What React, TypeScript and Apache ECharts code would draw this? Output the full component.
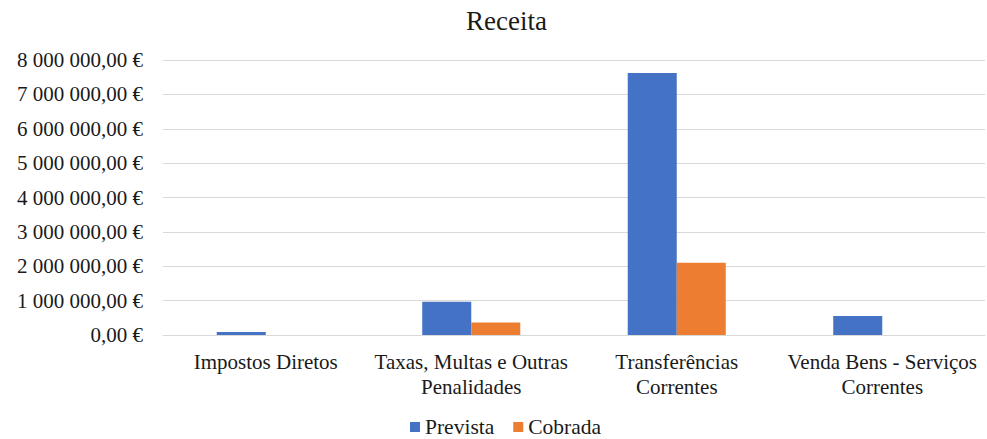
import React, { useEffect, useRef } from "react";
import * as echarts from "echarts";

const categories = [
  "Impostos Diretos",
  "Taxas, Multas e Outras\nPenalidades",
  "Transferências\nCorrentes",
  "Venda Bens - Serviços\nCorrentes",
];
const prevista = [90000, 970000, 7620000, 555000];
const cobrada = [0, 365000, 2100000, 0];
const seriesNames = ["Prevista", "Cobrada"];

const FONT = "Liberation Serif";

function fmt(v: number): string {
  const parts = v.toFixed(2).split(".");
  const int = parts[0].replace(/\B(?=(\d{3})+(?!\d))/g, " ");
  return `${int},${parts[1]} €`;
}

export default function App() {
  const ref = useRef<HTMLDivElement>(null);
  useEffect(() => {
    if (!ref.current) return;
    const chart = echarts.init(ref.current, undefined, { renderer: "svg" });
    chart.setOption({
      animation: false,
      backgroundColor: "#ffffff",
      textStyle: { fontFamily: FONT },
      title: {
        text: "Receita",
        left: 461,
        top: 2,
        textStyle: { fontFamily: FONT, fontSize: 27, fontWeight: "normal", color: "#1a1a1a" },
      },
      legend: {
        data: seriesNames,
        top: 411,
        left: 405,
        itemWidth: 10,
        itemHeight: 10,
        itemGap: 19,
        icon: "rect",
        textStyle: { fontFamily: FONT, fontSize: 21.5, color: "#1a1a1a" },
      },
      grid: { left: 163, right: 2, top: 60, bottom: 104, containLabel: false },
      xAxis: {
        type: "category",
        data: categories,
        axisLine: { lineStyle: { color: "#d9d9d9", width: 1 } },
        axisTick: { show: false },
        axisLabel: {
          interval: 0,
          margin: 14,
          fontFamily: FONT,
          fontSize: 21,
          lineHeight: 25,
          color: "#1a1a1a",
        },
      },
      yAxis: {
        type: "value",
        min: 0,
        max: 8000000,
        interval: 1000000,
        axisLine: { show: false },
        axisTick: { show: false },
        splitLine: { lineStyle: { color: "#d9d9d9", width: 1 } },
        axisLabel: {
          margin: 20,
          fontFamily: FONT,
          fontSize: 21,
          color: "#1a1a1a",
          formatter: (v: number) => fmt(v),
        },
      },
      series: [
        {
          name: seriesNames[0],
          type: "bar",
          data: prevista,
          itemStyle: { color: "#4472C4" },
          barGap: "0%",
          barCategoryGap: "52.3%",
        },
        {
          name: seriesNames[1],
          type: "bar",
          data: cobrada,
          itemStyle: { color: "#ED7D31" },
          barGap: "0%",
          barCategoryGap: "52.3%",
        },
      ],
    });
    return () => chart.dispose();
  }, []);
  return <div ref={ref} style={{ width: 987, height: 439, position: "absolute", left: 0, top: 0 }} />;
}
